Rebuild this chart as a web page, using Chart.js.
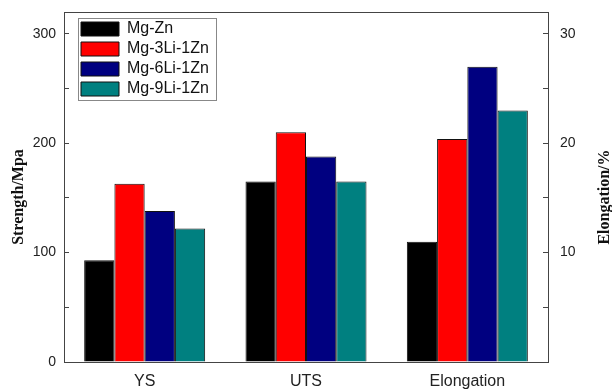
<!DOCTYPE html>
<html>
<head>
<meta charset="utf-8">
<script src="https://cdn.jsdelivr.net/npm/chart.js@4.4.1/dist/chart.umd.min.js"></script>
<style>
  html, body { margin: 0; padding: 0; background: #fff; }
  #wrap { position: relative; width: 612px; height: 391px; }
</style>
</head>
<body>
<div id="wrap"><canvas id="chart"></canvas></div>
<script>
const categories = ['YS', 'UTS', 'Elongation']
const alloys = ['Mg-Zn', 'Mg-3Li-1Zn', 'Mg-6Li-1Zn', 'Mg-9Li-1Zn']
const alloyColors = ['#000000', '#ff0000', '#000080', '#008080']
// strength in MPa (left axis), elongation in % (right axis)
const ysValues = [93, 163, 138, 122]
const utsValues = [165, 210, 188, 165]
const elongationValues = [11.0, 20.4, 27.0, 23.0]
const strengthTicks = [0, 100, 200, 300]
const elongationTicks = [10, 20, 30]

const sans = "'Liberation Sans', Arial, sans-serif"
const serif = "'Liberation Serif', 'Times New Roman', serif"
const axisColor = '#444'
const textColor = '#222'

const strengthSets = alloys.map((name, i) => ({
    label: name,
    data: [ysValues[i], utsValues[i], null],
    yAxisID: 'y',
    backgroundColor: alloyColors[i]
}))
const elongationSets = alloys.map((name, i) => ({
    label: name,
    data: [null, null, elongationValues[i]],
    yAxisID: 'y1',
    backgroundColor: alloyColors[i]
}))

// legend sits inside the plot, nudged off the corner and boxed
const legendBox = {
    id: 'legendBox',
    afterLayout(chart) {
        const area = chart.chartArea
        chart.legend.left = area.left + 13
        chart.legend.top = area.top + 5
        chart.legend.bottom = area.bottom
    },
    afterDraw(chart) {
        const boxes = chart.legend.legendHitBoxes
        if(!boxes || !boxes.length) return
        const left = Math.min(...boxes.map(b => b.left)) - 3
        const top = boxes[0].top - 3
        const right = Math.max(...boxes.map(b => b.left + b.width)) + 7
        const bottom = boxes[boxes.length - 1].top + boxes[boxes.length - 1].height + 3
        const ctx = chart.ctx
        ctx.save()
        ctx.strokeStyle = '#888'
        ctx.lineWidth = 1
        ctx.strokeRect(Math.round(left) + 0.5, Math.round(top) + 0.5, Math.round(right - left), Math.round(bottom - top))
        ctx.restore()
    }
}

// both axis titles read bottom-to-top
const axisTitles = {
    id: 'axisTitles',
    afterDraw(chart) {
        const { ctx, chartArea, scales } = chart
        const midY = (chartArea.top + chartArea.bottom) / 2 + 10
        const titles = [
            [scales.y.left + 19, 'Strength/Mpa'],
            [scales.y1.right - 7, 'Elongation/%']
        ]
        ctx.save()
        ctx.font = `bold 16px ${serif}`
        ctx.fillStyle = '#111'
        ctx.textAlign = 'center'
        ctx.textBaseline = 'middle'
        titles.forEach(([x, text]) => {
            ctx.save()
            ctx.translate(x, midY)
            ctx.rotate(-Math.PI / 2)
            ctx.fillText(text, 0, 0)
            ctx.restore()
        })
        ctx.restore()
    }
}

const fixSize = (prop, size) => (scale) => {
    scale[prop] = size
    scale.paddingTop = 0
    scale.paddingBottom = 0
    scale.paddingLeft = 0
    scale.paddingRight = 0
}

const valueAxis = (position, max, step, shown, padding, width) => ({
    type: 'linear',
    position,
    min: 0,
    max,
    grid: { drawOnChartArea: false, drawTicks: true, tickLength: -5, color: axisColor },
    border: { display: true, color: axisColor, width: 1 },
    ticks: {
        stepSize: step,
        includeBounds: false,
        autoSkip: false,
        padding,
        color: textColor,
        font: { family: sans, size: 14 },
        callback: (v) => shown.includes(v) ? v : ''
    },
    afterFit: fixSize('width', width)
})

new Chart(document.getElementById('chart').getContext('2d'), {
    type: 'bar',
    data: {
        labels: categories,
        datasets: [...strengthSets, ...elongationSets]
    },
    options: {
        responsive: true,
        maintainAspectRatio: false,
        animation: false,
        layout: { padding: 0 },
        datasets: {
            bar: {
                xAxisID: 'x',
                borderColor: '#111',
                borderWidth: 1,
                skipNull: true,
                categoryPercentage: 0.75,
                barPercentage: 1
            }
        },
        scales: {
            x: {
                type: 'category',
                position: 'bottom',
                offset: true,
                grid: { display: false, drawTicks: false },
                border: { display: true, color: axisColor, width: 1 },
                ticks: { padding: 10, color: textColor, font: { family: sans, size: 16 } },
                afterFit: fixSize('height', 29)
            },
            xTop: {
                type: 'category',
                position: 'top',
                grid: { display: false, drawTicks: false },
                border: { display: true, color: axisColor, width: 1 },
                ticks: { display: false },
                afterFit: fixSize('height', 12)
            },
            y: valueAxis('left', 320, 50, strengthTicks, 13, 64),
            y1: valueAxis('right', 32, 5, elongationTicks, 17, 64)
        },
        plugins: {
            legend: {
                position: 'chartArea',
                align: 'start',
                labels: {
                    filter: (item) => item.datasetIndex < alloys.length,
                    boxWidth: 38,
                    boxHeight: 14,
                    padding: 4,
                    color: '#111',
                    font: { family: sans, size: 16 }
                }
            },
            tooltip: { enabled: false }
        }
    },
    plugins: [legendBox, axisTitles]
})
</script>
</body>
</html>
